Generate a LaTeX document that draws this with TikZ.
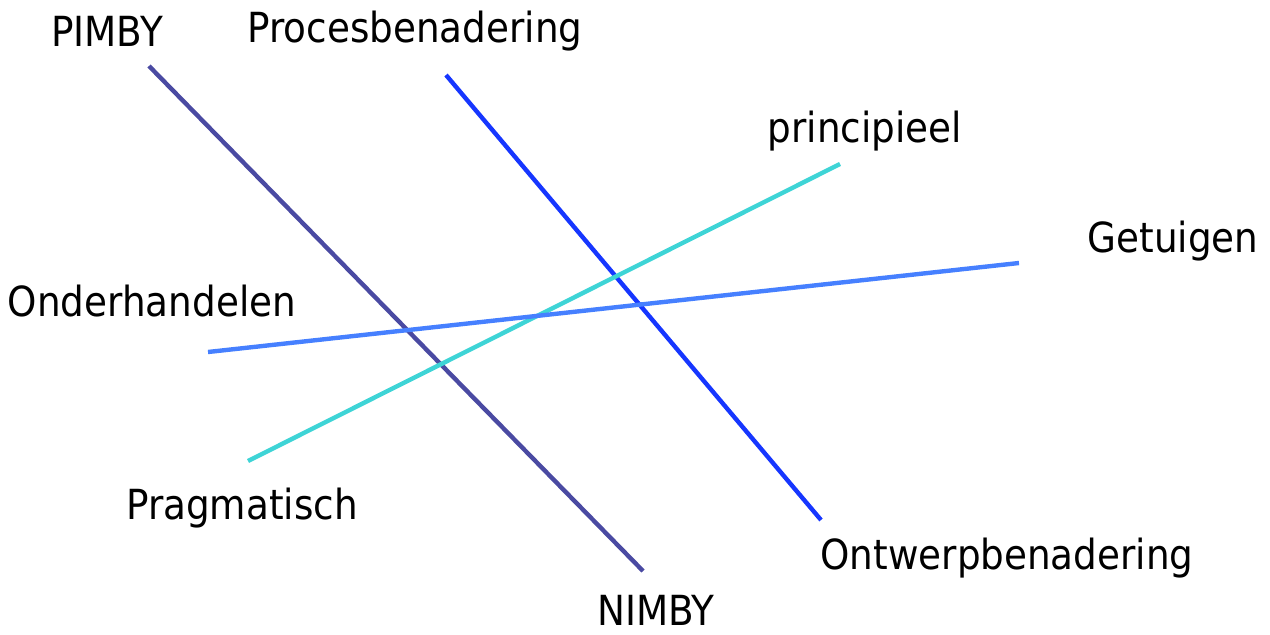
\documentclass[tikz,border=0pt]{standalone}
\usepackage{fontspec}
\setmainfont{DejaVu Sans Condensed}
\usepackage{tikz}
\usetikzlibrary{positioning}
\definecolor{slateline}{HTML}{4A4AA2}
\definecolor{procline}{HTML}{1636FF}
\definecolor{cyanline}{HTML}{3ED4D6}
\definecolor{skyline}{HTML}{4680FF}

\begin{document}
\begin{tikzpicture}[x=0.02cm,y=-0.02cm]
    \useasboundingbox (0,0) rectangle (1270,635);
    \tikzset{lbl/.style={font=\fontsize{23.6}{28}\selectfont,inner sep=0pt},
             axisline/.style={line width=2.5pt}}
    % labels
    \node[lbl] (pimby) at (107,31) {PIMBY};
    \node[lbl] (proces) at (415,31) {Procesbenadering};
    \node[lbl] (princ) at (865,131) {principieel};
    \node[lbl] (getuigen) at (1173,241) {Getuigen};
    \node[lbl] (onder) at (152,301) {Onderhandelen};
    \node[lbl] (pragma) at (242,508) {Pragmatisch};
    \node[lbl] (ontwerp) at (1007,558) {Ontwerpbenadering};
    \node[lbl] (nimby) at (656,610) {NIMBY};
    % line ends
    \coordinate (pimbyend) at (149,66);
    \coordinate (nimbyend) at (643,571);
    \coordinate (procend) at (446,75);
    \coordinate (ontwend) at (821,520);
    \coordinate (princend) at (840,164);
    \coordinate (pragend) at (248,461);
    \coordinate (getend) at (1019,263);
    \coordinate (onderend) at (208,352);
    \draw[axisline,slateline] (pimbyend) -- (nimbyend);
    \draw[axisline,procline] (procend) -- (ontwend);
    \draw[axisline,cyanline] (princend) -- (pragend);
    \draw[axisline,skyline] (getend) -- (onderend);
\end{tikzpicture}
\end{document}
